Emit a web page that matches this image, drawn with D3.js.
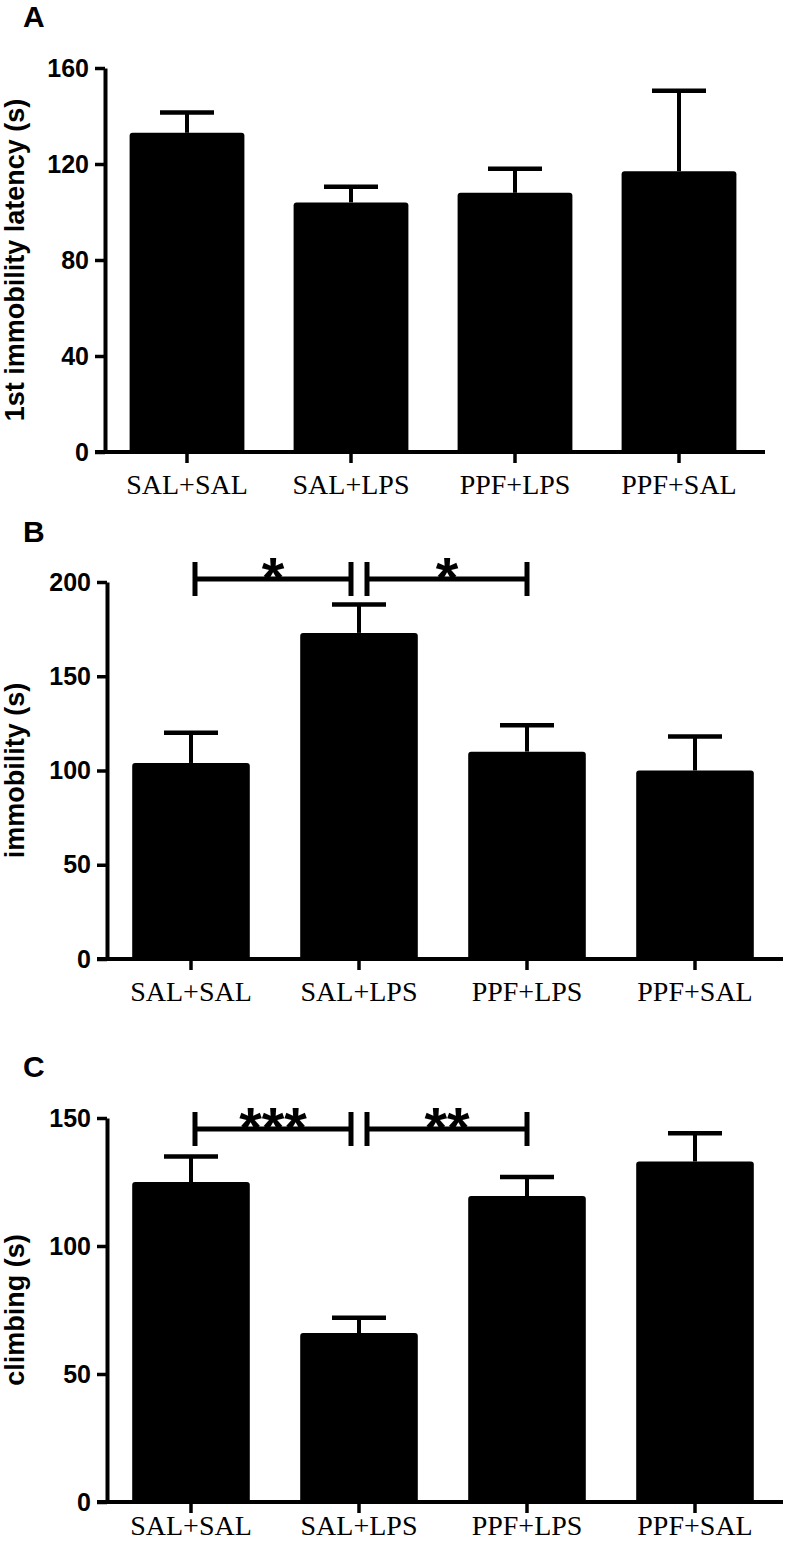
<!DOCTYPE html>
<html><head><meta charset="utf-8">
<script src="https://cdn.jsdelivr.net/npm/d3@7"></script>
<style>
html,body{margin:0;padding:0;background:#fff;}
svg{display:block;}
</style></head>
<body>
<script>
const categories = ["SAL+SAL", "SAL+LPS", "PPF+LPS", "PPF+SAL"];

const latencyMean = [133, 104, 108, 117];
const latencySem  = [8.5, 6.5, 10, 33.5];
const latencyTicks = [0, 40, 80, 120, 160];

const immobilityMean = [104, 173, 110, 100];
const immobilitySem  = [16, 15, 14, 18];
const immobilityTicks = [0, 50, 100, 150, 200];

const climbingMean = [125, 66, 119.5, 133];
const climbingSem  = [10, 6, 7.5, 11];
const climbingTicks = [0, 50, 100, 150];

const immobilityComparisons = [
  {from: "SAL+SAL", to: "SAL+LPS", label: "*"},
  {from: "SAL+LPS", to: "PPF+LPS", label: "*"}
];
const climbingComparisons = [
  {from: "SAL+SAL", to: "SAL+LPS", label: "***"},
  {from: "SAL+LPS", to: "PPF+LPS", label: "**"}
];

const panels = [
  {letter: "A", ylabel: "1st immobility latency (s)", mean: latencyMean, sem: latencySem, ticks: latencyTicks,
   letterY: 27, yTop: 68, yBottom: 452, xLeft: 105, xRight: 761, labelPad: 11, comps: []},
  {letter: "B", ylabel: "immobility (s)", mean: immobilityMean, sem: immobilitySem, ticks: immobilityTicks,
   letterY: 542, yTop: 582, yBottom: 959, xLeft: 107, xRight: 779, labelPad: 11, comps: immobilityComparisons, compY: 579},
  {letter: "C", ylabel: "climbing (s)", mean: climbingMean, sem: climbingSem, ticks: climbingTicks,
   letterY: 1077, yTop: 1118, yBottom: 1502, xLeft: 107, xRight: 779, labelPad: 2, comps: climbingComparisons, compY: 1129}
];

const W = 791, H = 1545;
const svg = d3.select("body").append("svg").attr("width", W).attr("height", H);
const sans = "'Liberation Sans', Arial, Helvetica, sans-serif";
const serif = "'Liberation Serif', 'Times New Roman', serif";

panels.forEach(p => {
  const g = svg.append("g");
  const x = d3.scaleBand().domain(categories).range([p.xLeft, p.xRight]).paddingInner(0.3).paddingOuter(0.15);
  const y = d3.scaleLinear().domain([0, d3.max(p.ticks)]).range([p.yBottom, p.yTop]);
  const data = categories.map((c, i) => ({c, m: p.mean[i], s: p.sem[i]}));

  // panel letter
  g.append("text").attr("x", 23).attr("y", p.letterY).text(p.letter)
    .attr("font-family", sans).attr("font-weight", "bold").attr("font-size", 30);

  // y label
  g.append("text")
    .attr("transform", `translate(24,${(p.yTop + p.yBottom) / 2}) rotate(-90)`)
    .attr("text-anchor", "middle")
    .attr("font-family", sans).attr("font-weight", "bold").attr("font-size", 27)
    .text(p.ylabel);

  // error bars (upward only)
  const eb = g.append("g");
  data.forEach(d => {
    const cx = x(d.c) + x.bandwidth() / 2;
    eb.append("line").attr("x1", cx).attr("x2", cx).attr("y1", y(d.m)).attr("y2", y(d.m + d.s))
      .attr("stroke", "#000").attr("stroke-width", 4);
    eb.append("line").attr("x1", cx - 27).attr("x2", cx + 27).attr("y1", y(d.m + d.s)).attr("y2", y(d.m + d.s))
      .attr("stroke", "#000").attr("stroke-width", 4.5);
  });

  // bars
  g.append("g").selectAll("path").data(data).join("path")
    .attr("d", d => {
      const x0 = x(d.c), x1 = x0 + x.bandwidth(), y0 = y(d.m), yb = y(0), r = 3;
      return `M${x0},${yb}V${y0 + r}Q${x0},${y0} ${x0 + r},${y0}H${x1 - r}Q${x1},${y0} ${x1},${y0 + r}V${yb}Z`;
    })
    .attr("fill", "#000");

  // y axis
  const ya = g.append("g").attr("transform", `translate(${p.xLeft},0)`)
    .call(d3.axisLeft(y).tickValues(p.ticks).tickSize(10).tickSizeOuter(0).tickPadding(6));
  ya.select(".domain").attr("stroke-width", 4);
  ya.selectAll(".tick line").attr("stroke-width", 3.5);
  ya.selectAll(".tick text").attr("font-family", sans).attr("font-weight", "bold").attr("font-size", 25);

  // x axis
  const xa = g.append("g").attr("transform", `translate(0,${p.yBottom})`)
    .call(d3.axisBottom(x).tickSize(11).tickSizeOuter(0).tickPadding(p.labelPad));
  xa.select(".domain").remove();
  xa.append("line").attr("x1", p.xLeft - 10).attr("x2", p.xRight + 4).attr("y1", 0).attr("y2", 0)
    .attr("stroke", "#000").attr("stroke-width", 4);
  xa.selectAll(".tick line").attr("stroke-width", 3.5);
  xa.selectAll(".tick text").attr("font-family", serif).attr("font-size", 28).attr("fill", "#000");

  // significance brackets
  p.comps.forEach((cmp, k) => {
    const cFrom = x(cmp.from) + x.bandwidth() / 2;
    const cTo = x(cmp.to) + x.bandwidth() / 2;
    const x1 = k === 0 ? cFrom + 4 : cFrom + 8;
    const x2 = k === 0 ? cTo - 8 : cTo;
    const yy = p.compY;
    const bg = g.append("g");
    bg.append("line").attr("x1", x1).attr("x2", x2).attr("y1", yy).attr("y2", yy)
      .attr("stroke", "#000").attr("stroke-width", 5);
    [x1, x2].forEach(xx => bg.append("line").attr("x1", xx).attr("x2", xx)
      .attr("y1", yy - 17).attr("y2", yy + 17).attr("stroke", "#000").attr("stroke-width", 5));
    bg.append("text").attr("x", (x1 + x2) / 2).attr("y", yy + 19).attr("text-anchor", "middle")
      .attr("font-family", sans).attr("font-weight", "bold").attr("font-size", 58)
      .text(cmp.label);
  });
});
</script>
</body></html>
